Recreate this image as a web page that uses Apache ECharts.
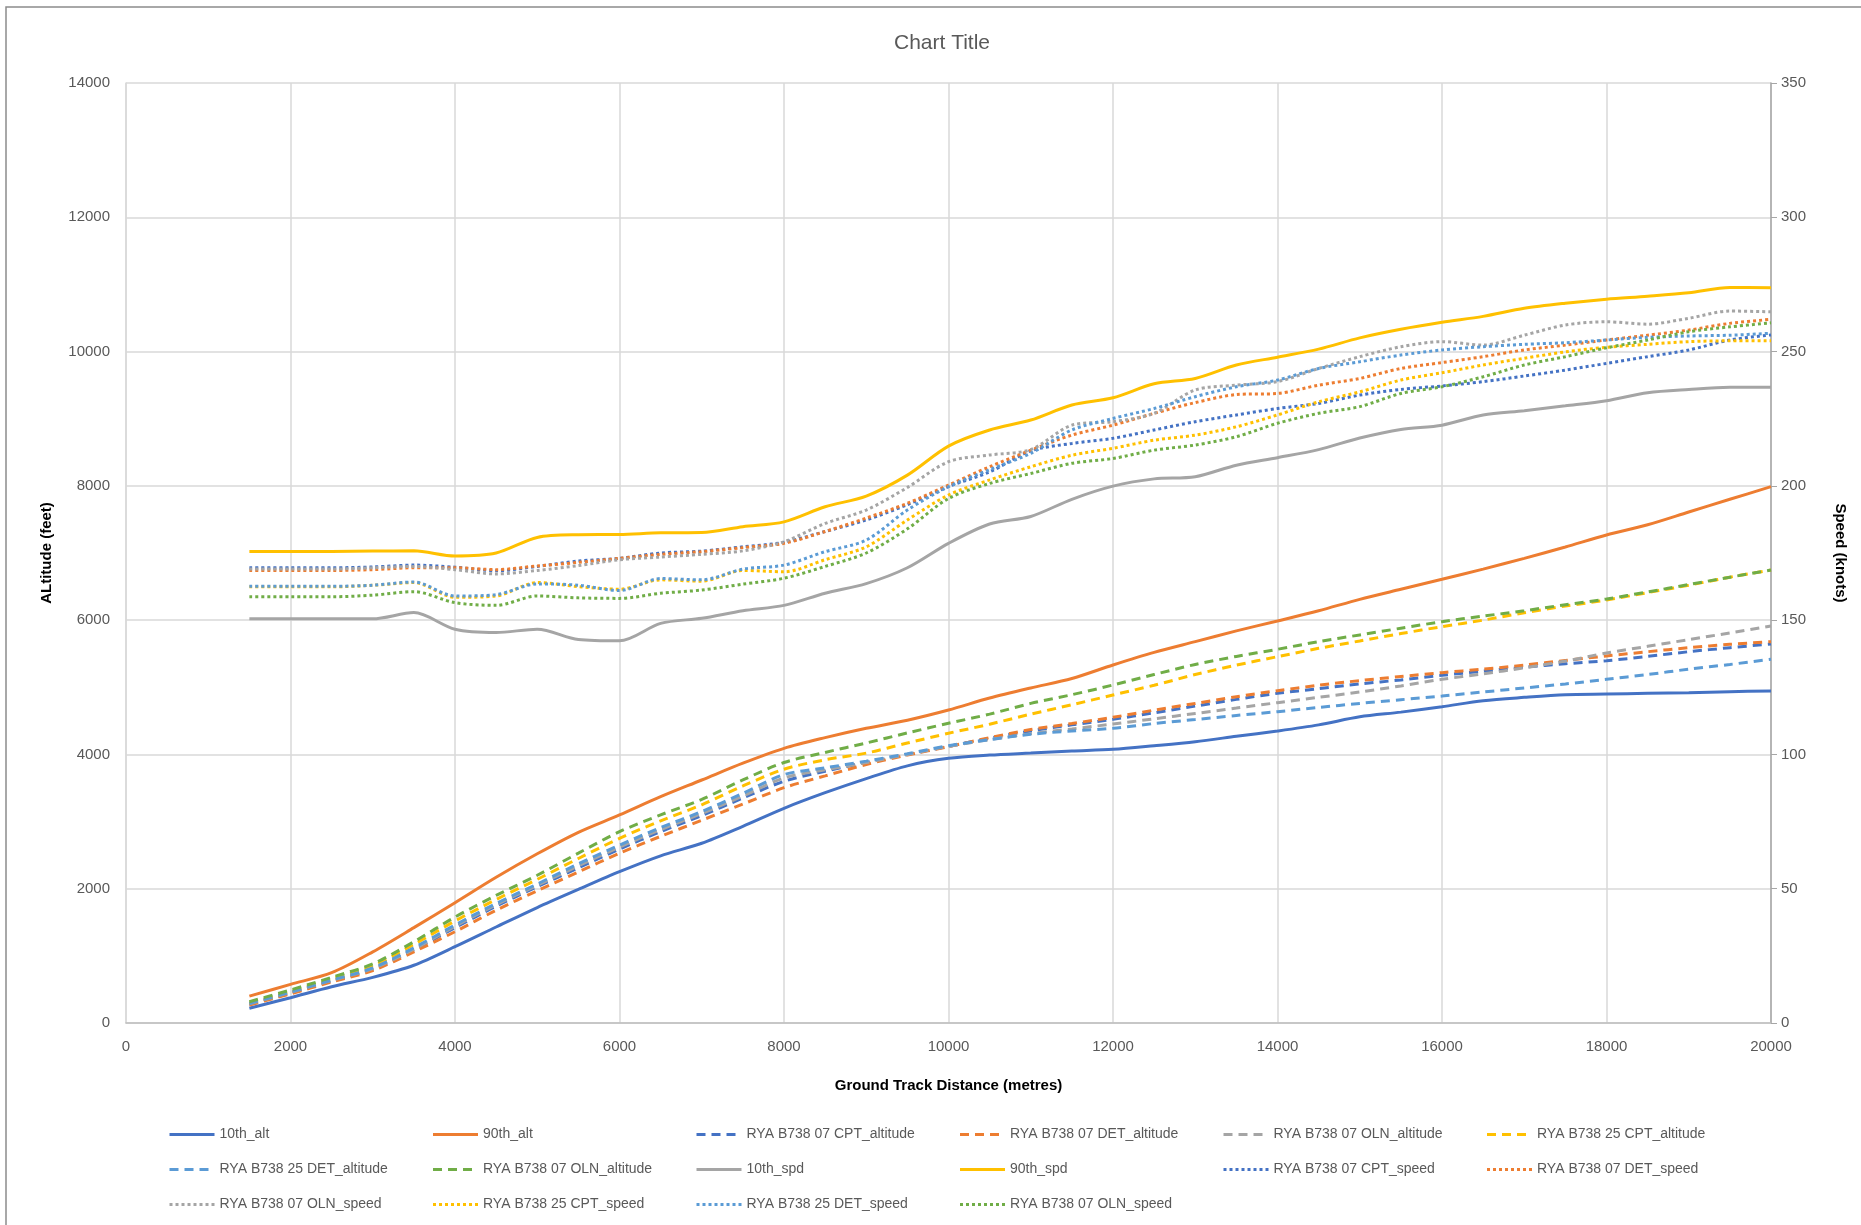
<!DOCTYPE html>
<html>
<head>
<meta charset="utf-8">
<title>Chart Title</title>
<script src="https://cdn.jsdelivr.net/npm/echarts@6/dist/echarts.min.js"></script>
<style>
  html, body { margin: 0; padding: 0; background: #fff; }
  #main { width: 1861px; height: 1225px; }
</style>
</head>
<body>
<div id="main"></div>
<script>
// ground track distance (metres)
var distance = [1500, 2000, 2500, 3000, 3500, 4000, 4500, 5000, 5500, 6000, 6500, 7000, 7500, 8000, 8500, 9000, 9500, 10000, 10500, 11000,
  11500, 12000, 12500, 13000, 13500, 14000, 14500, 15000, 15500, 16000, 16500, 17000, 17500, 18000, 18500, 19000, 19500, 20000];

// altitude (feet)
var alt10 = [219, 377, 540, 680, 860, 1137, 1430, 1720, 1990, 2254, 2490, 2677, 2930, 3198, 3430, 3640, 3830, 3942, 3990, 4020,
  4050, 4076, 4130, 4190, 4270, 4349, 4440, 4560, 4630, 4711, 4800, 4850, 4890, 4900, 4910, 4920, 4935, 4945];
var alt90 = [400, 576, 750, 1060, 1420, 1792, 2170, 2520, 2840, 3098, 3370, 3619, 3870, 4091, 4250, 4389, 4510, 4662, 4840, 4990,
  5130, 5332, 5520, 5680, 5840, 5988, 6140, 6310, 6460, 6608, 6760, 6920, 7090, 7268, 7420, 7610, 7800, 7988];
var cpt07Alt = [275, 445, 625, 800, 1090, 1420, 1740, 2030, 2310, 2590, 2850, 3090, 3350, 3600, 3750, 3880, 4000, 4120, 4240, 4350,
  4440, 4523, 4620, 4720, 4820, 4910, 4980, 5050, 5110, 5178, 5240, 5300, 5350, 5396, 5460, 5530, 5590, 5645];
var det07Alt = [268, 435, 610, 780, 1060, 1360, 1680, 1970, 2250, 2528, 2780, 3020, 3260, 3505, 3680, 3850, 3990, 4116, 4250, 4370,
  4460, 4553, 4660, 4760, 4860, 4950, 5030, 5100, 5160, 5218, 5270, 5330, 5400, 5466, 5530, 5590, 5640, 5680];
var oln07AltA = [285, 455, 635, 810, 1100, 1440, 1760, 2050, 2340, 2620, 2880, 3120, 3380, 3650, 3770, 3880, 4000, 4120, 4220, 4310,
  4380, 4453, 4530, 4610, 4690, 4771, 4850, 4930, 5020, 5119, 5200, 5290, 5390, 5511, 5610, 5710, 5810, 5913];
var cpt25Alt = [300, 470, 660, 850, 1170, 1520, 1840, 2140, 2450, 2750, 3010, 3250, 3530, 3780, 3920, 4020, 4170, 4315, 4450, 4600,
  4740, 4885, 5030, 5190, 5330, 5456, 5580, 5690, 5800, 5903, 6000, 6110, 6210, 6300, 6410, 6520, 6640, 6747];
var det25Alt = [290, 460, 640, 820, 1120, 1460, 1780, 2070, 2370, 2650, 2910, 3150, 3420, 3700, 3800, 3900, 4010, 4130, 4220, 4300,
  4350, 4389, 4460, 4520, 4580, 4637, 4700, 4760, 4815, 4870, 4930, 4990, 5050, 5119, 5190, 5270, 5340, 5417];
var oln07AltB = [317, 492, 680, 880, 1210, 1578, 1900, 2200, 2530, 2850, 3100, 3330, 3620, 3880, 4030, 4170, 4320, 4464, 4600, 4760,
  4890, 5034, 5190, 5340, 5460, 5566, 5680, 5780, 5880, 5977, 6060, 6140, 6230, 6315, 6420, 6530, 6640, 6747];

// speed (knots)
var spd10 = [150.5, 150.5, 150.5, 150.5, 152.8, 146.6, 145.4, 146.6, 142.8, 142.3, 148.8, 150.7, 153.5, 155.5, 160, 163.6, 169.5, 178.6, 185.8, 188.6,
  195, 199.9, 202.6, 203.4, 207.7, 210.5, 213.5, 217.8, 221, 222.6, 226.4, 228, 229.8, 231.7, 234.7, 235.9, 236.7, 236.7];
var spd90 = [175.6, 175.6, 175.6, 175.7, 175.8, 173.9, 175, 180.8, 181.8, 181.9, 182.5, 182.6, 184.8, 186.6, 192.2, 196.2, 204, 214.8, 220.8, 224.5,
  230.1, 232.8, 238, 240, 245, 247.9, 250.9, 255.1, 258.3, 260.9, 263.1, 266.1, 268, 269.5, 270.6, 271.9, 273.9, 273.8];
var cpt07Spd = [169.5, 169.5, 169.5, 169.8, 170.5, 169.7, 168.4, 170, 172, 173, 175, 175.7, 177.3, 179, 183, 187.3, 193, 199.7, 205.2, 213,
  215.8, 217.7, 220.8, 223.9, 226.4, 228.8, 230.7, 233.8, 235.9, 237.2, 238.8, 240.9, 243.1, 245.6, 248.1, 250.6, 254.3, 256.2];
var det07Spd = [168.5, 168.5, 168.5, 168.8, 169.5, 169.5, 168.8, 170.2, 171.5, 173, 174.5, 175.5, 177, 178.6, 183, 188, 193.5, 200.3, 207.1, 213.3,
  218.9, 222.6, 227, 231, 234, 234.4, 237.5, 240, 243.7, 245.9, 248.1, 250.6, 252.4, 254.3, 256.1, 258, 260.5, 262];
var oln07SpdA = [169, 169, 169, 169.5, 170, 168.8, 167.2, 168.5, 170.3, 172.5, 173.5, 174.5, 175.8, 179.2, 186, 191, 199.4, 209, 211.5, 213.5,
  222.6, 223.9, 227, 235.7, 237.5, 238.8, 243.7, 248.1, 251.8, 253.7, 252.4, 256.1, 259.9, 261.1, 260.2, 262.4, 265.1, 264.8];
var cpt25Spd = [162.4, 162.4, 162.4, 163, 164, 158.5, 159, 164, 162.5, 161.5, 165, 164.5, 168.5, 168, 172.5, 177.3, 187.3, 196.6, 202.2, 207.1,
  211.4, 214, 217, 218.9, 222, 226.4, 231.3, 235, 239.4, 242.1, 245, 247.5, 249.9, 251.6, 252.7, 253.7, 254, 254];
var det25Spd = [162.6, 162.6, 162.6, 163, 164.2, 159, 159.5, 163.5, 163, 161, 165.5, 165, 169, 170.5, 175.5, 179.8, 191, 199.7, 206, 212.1,
  220.8, 225.1, 228.8, 233.2, 236.9, 239.4, 243.7, 246.2, 248.7, 250.6, 251.8, 252.7, 253.3, 254.3, 255.3, 255.8, 256.1, 256.8];
var oln07SpdB = [158.7, 158.7, 158.7, 159.3, 160.6, 156.5, 155.5, 159, 158.3, 158.1, 160, 161.2, 163.4, 165.6, 170, 175, 184, 195.3, 200.9, 204.6,
  208.4, 210.2, 213.3, 215.2, 218.3, 223.3, 227, 229.5, 234.4, 236.9, 240.6, 245, 248.1, 251.4, 254.3, 257.4, 259.2, 260.7];

var FONT = 'Liberation Sans';
var blue = '#4472C4', orange = '#ED7D31', grey = '#A5A5A5', yellow = '#FFC000', lblue = '#5B9BD5', green = '#70AD47';

function pairs(ys) {
  return distance.map(function (d, i) { return [d, ys[i]]; });
}

function plain(v) { return String(v); }

// kind: solid / dashed / dotted
function mk(name, ys, color, kind, axis) {
  var dash = kind === 'dashed' ? [9, 6] : kind === 'dotted' ? [3, 3] : 'solid';
  return {
    name: name,
    type: 'line',
    yAxisIndex: axis,
    data: pairs(ys),
    smooth: 0.3,
    symbol: 'none',
    lineStyle: { color: color, width: 3, type: dash },
    itemStyle: { color: color },
    z: 2
  };
}

var chart = echarts.init(document.getElementById('main'), null, { renderer: 'canvas' });

var option = {
  backgroundColor: '#fff',
  animation: false,
  textStyle: { fontFamily: FONT },
  title: {
    text: 'Chart Title',
    left: 937,
    textAlign: 'center',
    top: 28,
    textStyle: { fontFamily: FONT, fontSize: 21, fontWeight: 'normal', color: '#595959' }
  },
  graphic: [{
    type: 'rect',
    shape: { x: 6, y: 7, width: 2000, height: 1400 },
    style: { fill: 'none', stroke: '#8c8c8c', lineWidth: 1.5 },
    silent: true
  }],
  grid: { left: 126, right: 90, top: 83, bottom: 202 },
  legend: {
    left: 163,
    top: 1122,
    width: 1600,
    itemWidth: 45,
    itemHeight: 14,
    itemGap: 20,
    // hide the marker dot, keep only the line sample
    itemStyle: { color: 'rgba(0,0,0,0)', borderWidth: 0, opacity: 0 },
    lineStyle: { opacity: 1, width: 3 },
    textStyle: { fontFamily: FONT, fontSize: 14, color: '#595959', width: 192, overflow: 'none', lineHeight: 15 }
  },
  xAxis: {
    type: 'value',
    min: 0,
    max: 20000,
    interval: 2000,
    name: 'Ground Track Distance (metres)',
    nameLocation: 'middle',
    nameGap: 55,
    nameTextStyle: { fontFamily: FONT, fontSize: 15, fontWeight: 'bold', color: '#000' },
    axisLine: { show: true, onZero: false, lineStyle: { color: '#bfbfbf', width: 1.5 } },
    axisTick: { show: false },
    axisLabel: { fontFamily: FONT, fontSize: 15, color: '#595959', margin: 16, formatter: plain },
    splitLine: { show: true, lineStyle: { color: '#d9d9d9', width: 1.5 } }
  },
  yAxis: [{
    type: 'value',
    min: 0,
    max: 14000,
    interval: 2000,
    name: 'ALtitude (feet)',
    nameLocation: 'middle',
    nameRotate: 90,
    nameGap: 72,
    nameTextStyle: { fontFamily: FONT, fontSize: 15, fontWeight: 'bold', color: '#000' },
    axisLine: { show: true, lineStyle: { color: '#d9d9d9', width: 1.5 } },
    axisTick: { show: false },
    axisLabel: { fontFamily: FONT, fontSize: 15, color: '#595959', margin: 16, formatter: plain },
    splitLine: { show: true, lineStyle: { color: '#d9d9d9', width: 1.5 } }
  }, {
    type: 'value',
    min: 0,
    max: 350,
    interval: 50,
    position: 'right',
    name: 'Speed (knots)',
    nameLocation: 'middle',
    nameRotate: -90,
    nameGap: 62,
    nameTextStyle: { fontFamily: FONT, fontSize: 15, fontWeight: 'bold', color: '#000' },
    axisLine: { show: true, lineStyle: { color: '#a6a6a6', width: 1.5 } },
    axisTick: { show: true, length: 6, lineStyle: { color: '#a6a6a6' } },
    axisLabel: { fontFamily: FONT, fontSize: 15, color: '#595959', margin: 10, formatter: plain },
    splitLine: { show: false }
  }],
  series: [
    mk('10th_alt', alt10, blue, 'solid', 0),
    mk('90th_alt', alt90, orange, 'solid', 0),
    mk('RYA B738 07 CPT_altitude', cpt07Alt, blue, 'dashed', 0),
    mk('RYA B738 07 DET_altitude', det07Alt, orange, 'dashed', 0),
    mk('RYA B738 07 OLN_altitude', oln07AltA, grey, 'dashed', 0),
    mk('RYA B738 25 CPT_altitude', cpt25Alt, yellow, 'dashed', 0),
    mk('RYA B738 25 DET_altitude', det25Alt, lblue, 'dashed', 0),
    mk('RYA B738 07 OLN_altitude ', oln07AltB, green, 'dashed', 0),
    mk('10th_spd', spd10, grey, 'solid', 1),
    mk('90th_spd', spd90, yellow, 'solid', 1),
    mk('RYA B738 07 CPT_speed', cpt07Spd, blue, 'dotted', 1),
    mk('RYA B738 07 DET_speed', det07Spd, orange, 'dotted', 1),
    mk('RYA B738 07 OLN_speed', oln07SpdA, grey, 'dotted', 1),
    mk('RYA B738 25 CPT_speed', cpt25Spd, yellow, 'dotted', 1),
    mk('RYA B738 25 DET_speed', det25Spd, lblue, 'dotted', 1),
    mk('RYA B738 07 OLN_speed ', oln07SpdB, green, 'dotted', 1)
  ]
};

chart.setOption(option);
</script>
</body>
</html>
